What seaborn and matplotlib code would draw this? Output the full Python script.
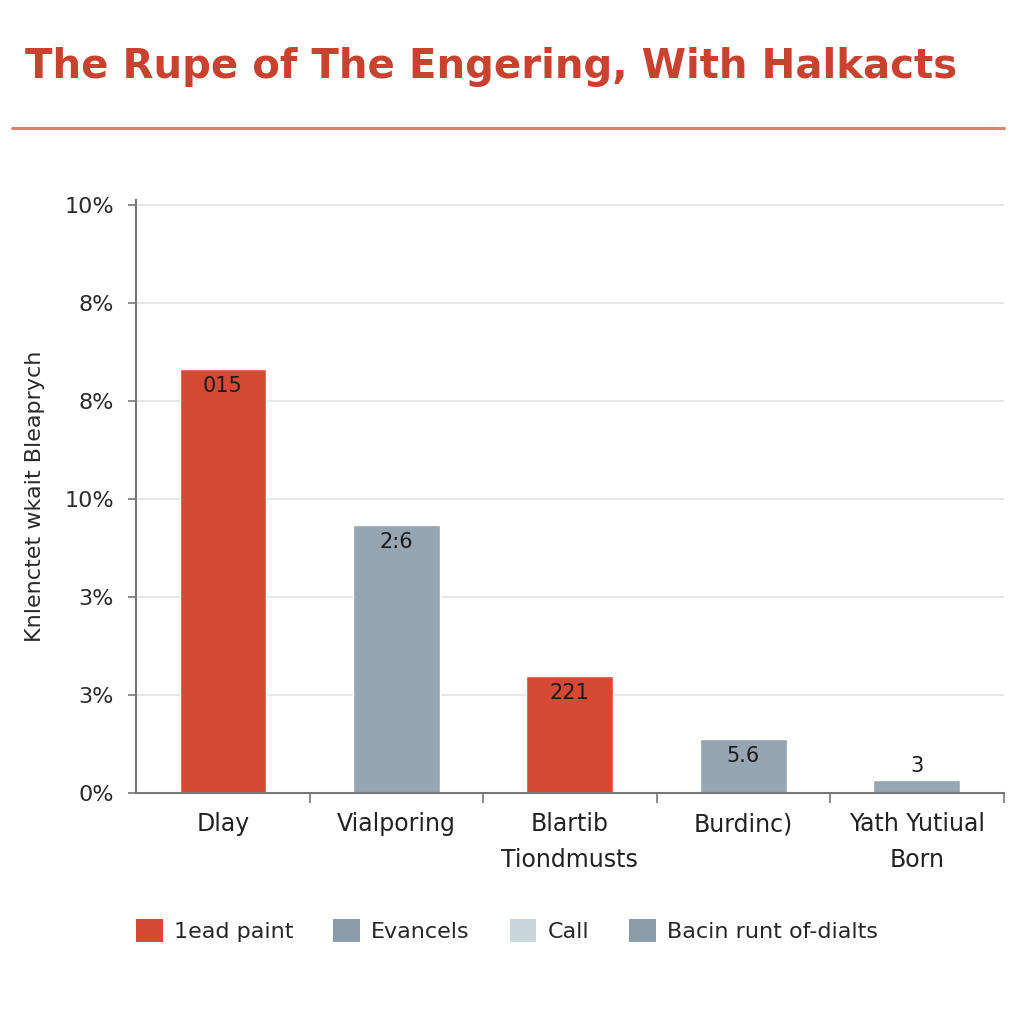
import matplotlib
matplotlib.use("Agg")
from matplotlib import pyplot as plt
from matplotlib.patches import Patch
import seaborn as sns
import pandas as pd

# 데이터
categories = ["Dlay", "Vialporing", "Blartib\nTiondmusts", "Burdinc)", "Yath Yutiual\nBorn"]
values = [4.32, 2.73, 1.19, 0.55, 0.13]
bar_labels = ["015", "2:6", "221", "5.6", "3"]
bar_colors = ["#D64A35", "#95A5B1", "#D64A35", "#95A5B1", "#95A5B1"]
ytick_labels = ["0%", "3%", "3%", "10%", "8%", "8%", "10%"]
legend_names = ["1ead paint", "Evancels", "Call", "Bacin runt of-dialts"]
legend_colors = ["#D64A35", "#8C9DAA", "#C9D6DC", "#8C9DAA"]

title = "The Rupe of The Engering, With Halkacts"
ylabel = "Knlenctet wkait Bleaprych"

sns.set_theme(style="white")
plt.rcParams["font.family"] = ["DejaVu Sans"]

df = pd.DataFrame({"cat": categories, "val": values})

fig = plt.figure(figsize=(10.24, 10.24), dpi=100)
ax = fig.add_axes([0.133, 0.2256, 0.847, 0.5794])

sns.barplot(data=df, x="cat", y="val", hue="cat", palette=bar_colors,
            width=0.5, legend=False, ax=ax, saturation=1)

ax.set_xlim(-0.5, 4.5)
ax.set_ylim(0, 6.05)
ax.set_yticks(range(len(ytick_labels)))
ax.set_yticklabels(ytick_labels, fontsize=16, color="#2a2a2a")
ax.yaxis.grid(True, color="#E3E3E3", linewidth=1.2)
ax.set_axisbelow(True)
ax.tick_params(axis="y", left=True, length=6, width=1.2, color="#777777", pad=10)
ax.tick_params(axis="x", bottom=False, labelsize=17, labelcolor="#222222", pad=8)
ax.set_xticks(range(len(categories)))
ax.set_xticklabels(categories, fontsize=17, linespacing=1.6)
ax.set_xticks([0.5, 1.5, 2.5, 3.5, 4.5], minor=True)
ax.tick_params(axis="x", which="minor", bottom=True, length=7, width=1.2, color="#777777")
ax.set_xlabel("")
ax.set_ylabel(ylabel, fontsize=16, color="#2a2a2a", labelpad=14)

for side in ["top", "right"]:
    ax.spines[side].set_visible(False)
for side in ["left", "bottom"]:
    ax.spines[side].set_color("#777777")
    ax.spines[side].set_linewidth(1.5)

for i, (v, lab) in enumerate(zip(values, bar_labels)):
    if v > 0.4:
        ax.text(i, v - 0.07, lab, ha="center", va="top", fontsize=15,
                fontweight="medium", color="#1a1a1a")
    else:
        ax.text(i, v + 0.04, lab, ha="center", va="bottom", fontsize=15,
                fontweight="medium", color="#1a1a1a")

fig.text(0.024, 0.935, title, fontsize=29, fontweight="bold", color="#C9412F",
         ha="left", va="center")
fig.add_artist(plt.Line2D([0.012, 0.98], [0.875, 0.875], color="#D98272", linewidth=2.2))

handles = [Patch(facecolor=c, edgecolor="none") for c in legend_colors]
fig.legend(handles, legend_names, loc="center", bbox_to_anchor=(0.495, 0.091), ncol=4,
           frameon=False, fontsize=16, handlelength=1.2, handleheight=1.2,
           handletextpad=0.5, columnspacing=1.8)

fig.savefig("out.png", dpi=100, facecolor="white")
